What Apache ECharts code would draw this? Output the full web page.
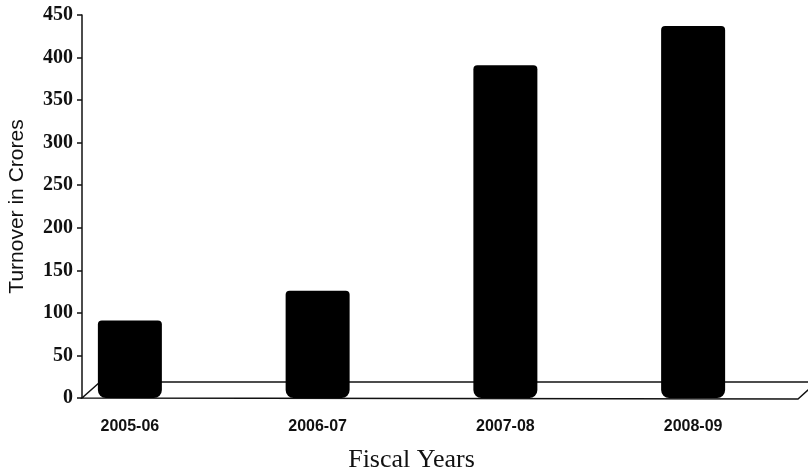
<!DOCTYPE html>
<html>
<head>
<meta charset="utf-8">
<script src="https://cdn.jsdelivr.net/npm/echarts@6/dist/echarts.min.js"></script>
<style>
html,body{margin:0;padding:0;background:#fff;}
#main{width:808px;height:475px;}
</style>
</head>
<body>
<div id="main"></div>
<script>
var years=['2005-06','2006-07','2007-08','2008-09'];
var turnover=[91,126,391,437];
var y_ticks={min:0,max:450,step:50};

var gridLeft=36,gridTop=15,gridBottom=77,gridRight=21;
var axisX=82;

var myChart=echarts.init(document.getElementById('main'));
var option={
	backgroundColor:'#fff',
	animation:false,
	grid:{left:gridLeft,right:gridRight,top:gridTop,bottom:gridBottom,outerBoundsMode:'none',containLabel:false},
	xAxis:{
		type:'category',
		data:years,
		axisLine:{show:false},
		axisTick:{show:false},
		axisLabel:{
			margin:21,
			fontFamily:'Liberation Sans',
			fontSize:16,
			fontWeight:'bold',
			color:'#111'
		},
		name:'Fiscal Years',
		nameLocation:'middle',
		nameGap:49,
		nameTextStyle:{fontFamily:'Liberation Serif',fontSize:26,color:'#111'}
	},
	yAxis:{
		type:'value',
		min:y_ticks.min,
		max:y_ticks.max,
		interval:y_ticks.step,
		offset:gridLeft-axisX,
		splitLine:{show:false},
		axisLine:{show:true,lineStyle:{color:'#111',width:1.5}},
		axisTick:{show:true,inside:false,length:5,lineStyle:{color:'#111',width:1.5}},
		axisLabel:{
			margin:9,
			fontFamily:'Liberation Serif',
			fontWeight:'bold',
			fontSize:20,
			color:'#111'
		},
		name:'Turnover in Crores',
		nameLocation:'middle',
		nameGap:54,
		nameTextStyle:{fontFamily:'Liberation Sans',fontSize:21,color:'#111'}
	},
	series:[{
		type:'bar',
		data:turnover,
		barWidth:64,
		z:5,
		itemStyle:{color:'#000',borderRadius:[4,4,8,8]}
	}]
};
myChart.setOption(option);

// 3D floor drawn as decoration around the zero line
var zeroY=myChart.convertToPixel({yAxisIndex:0},0);
var frontR=798,backR=818,depth=16,backL=axisX+18;
myChart.setOption({
	graphic:[
		{type:'polyline',z:1,shape:{points:[[backL,zeroY-depth],[backR,zeroY-depth]]},style:{stroke:'#111',lineWidth:1.5,fill:null}},
		{type:'polyline',z:1,shape:{points:[[backL,zeroY-depth],[axisX,zeroY],[frontR,zeroY+1],[frontR+18,zeroY-depth+1]]},style:{stroke:'#111',lineWidth:1.5,fill:null}}
	]
});
</script>
</body>
</html>
